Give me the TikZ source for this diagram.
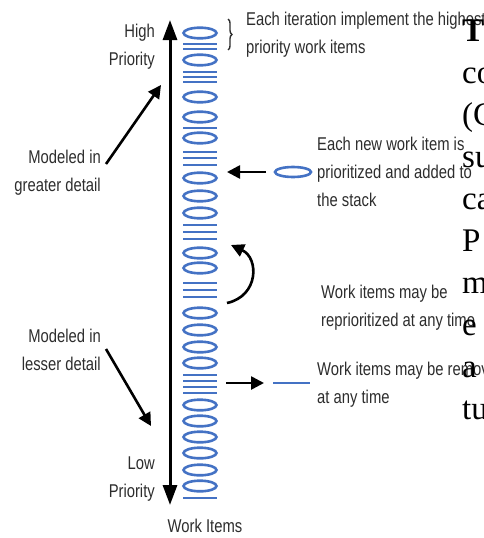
\documentclass[tikz,border=0pt]{standalone}
\usepackage{fontspec}
\setmainfont{Liberation Sans}[FakeStretch=0.8]
\newfontfamily\bodyfont{Liberation Serif}
\usetikzlibrary{arrows.meta,decorations.pathreplacing}
\definecolor{itemblue}{RGB}{68,114,196}
\definecolor{labelgray}{RGB}{45,45,45}
\begin{document}
\begin{tikzpicture}[x=1pt,y=-1pt]
\tikzstyle{lbl}=[text=labelgray,font=\fontsize{18.5}{28}\selectfont,inner sep=0pt]
\tikzstyle{item}=[draw=itemblue,line width=2.6pt]
\tikzstyle{bar}=[draw=itemblue,line width=2.8pt]
\tikzstyle{arr}=[line width=2.6pt,-{Triangle[length=13pt,width=13pt]}]
\useasboundingbox (0,0) rectangle (483,538);
\clip (0,0) rectangle (483,538);
% priority axis
\coordinate (top) at (170,20);
\coordinate (bottom) at (170,505);
\draw[line width=3pt,{Triangle[length=20pt,width=14pt]}-{Triangle[length=20pt,width=14pt]}] (top) -- (bottom);
% the stack of work items
\foreach \y in {33,60,97,117,138,178,196,213,253,268,313,330,347,363,405,421,437,453,470,486}
  \draw[item] (200,\y) ellipse (16.5 and 5.3);
\foreach \y in {44,49,72,77,82,128,152,158,165,225,232,239,283,290,297,375,381,387,393,498}
  \draw[bar] (183,\y) -- (217,\y);
% left labels
\node[lbl,anchor=north east,align=right] at (155,24) (high) {High\\Priority};
\node[lbl,anchor=north east,align=right] at (101,150) (greater) {Modeled in\\greater detail};
\node[lbl,anchor=north east,align=right] at (101,329) (lesser) {Modeled in\\lesser detail};
\node[lbl,anchor=north east,align=right] at (155,457) (low) {Low\\Priority};
\node[lbl,anchor=north] at (205,519) (items) {Work Items};
\coordinate (gtail) at (106,164);
\coordinate (ghead) at (161,85);
\coordinate (ltail) at (106,349);
\coordinate (lhead) at (151,426);
\draw[arr] (gtail) -- (ghead);
\draw[arr] (ltail) -- (lhead);
% right labels
\draw[labelgray,line width=1.4pt,decorate,decoration={brace,amplitude=4pt}] (228,19) -- (228,50);
\node[lbl,anchor=north west,align=left] at (246,12) (iter) {Each iteration implement the highest\\priority work items};
\node[lbl,anchor=north west,align=left] at (317,137) (newitem) {Each new work item is\\prioritized and added to\\the stack};
\node[lbl,anchor=north west,align=left] at (321,285) (reprio) {Work items may be\\reprioritized at any time};
\node[lbl,anchor=north west,align=left] at (317,362) (remove) {Work items may be removed\\at any time};
% new item, reprioritizing, removal
\coordinate (intail) at (266,172);
\coordinate (inhead) at (227,172);
\draw[arr] (intail) -- (inhead);
\draw[item] (293,172) ellipse (18 and 5);
\coordinate (rptail) at (227,303);
\coordinate (rphead) at (231,245);
\draw[arr] (rptail) .. controls (259,296) and (259,258) .. (rphead);
\coordinate (rmtail) at (226,383);
\coordinate (rmhead) at (264,383);
\draw[arr] (rmtail) -- (rmhead);
\draw[bar] (273,383) -- (310,383);
% text of the page beside the figure
\node[anchor=north west,align=left,inner sep=0pt,font=\bodyfont\fontsize{33}{42}\selectfont] at (462,20) (page) {\textbf{T}\\co\\(C\\su\\ca\\P\\m\\e\\a\\tu};
\end{tikzpicture}
\end{document}
